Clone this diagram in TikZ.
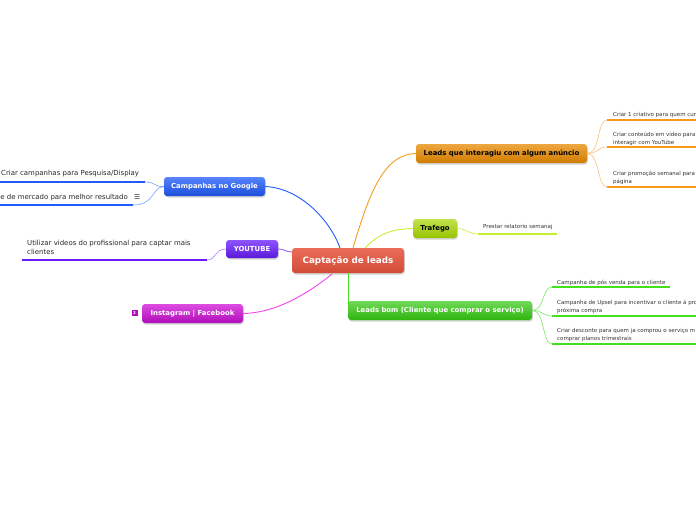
\documentclass[tikz,border=0pt]{standalone}
\usepackage{fontspec}
\setmainfont{DejaVu Sans}
\usetikzlibrary{shadows}
\definecolor{cMain}{HTML}{E8543C}
\definecolor{cBlue}{HTML}{1F5BFF}
\definecolor{cPurple}{HTML}{6A1CFF}
\definecolor{cMag}{HTML}{D010D8}
\definecolor{cMagLine}{HTML}{F040F0}
\definecolor{cOrange}{HTML}{F59A1A}
\definecolor{cOrangeBox}{HTML}{E88A00}
\definecolor{cYellow}{HTML}{C8F030}
\definecolor{cYellowBox}{HTML}{A8D800}
\definecolor{cGreen}{HTML}{44E020}
\definecolor{cGreenBox}{HTML}{33C810}
\begin{document}
\begin{tikzpicture}[x=1pt,y=-1pt,
  box/.style={rounded corners=3pt, inner sep=0pt, font=\bfseries\fontsize{6.9}{8}\selectfont, minimum height=19pt,
     drop shadow={opacity=0.35, shadow xshift=0.8pt, shadow yshift=-1.5pt}},
  leaf/.style={anchor=base west, inner sep=0pt, align=left, font=\fontsize{5.5}{8}\selectfont, text=black!80},
  bigleaf/.style={anchor=base west, inner sep=0pt, align=left, font=\fontsize{6.95}{9}\selectfont, text=black!85},
  uline/.style={line width=2.4pt},
  conn/.style={line width=0.9pt},
  thin/.style={line width=0.6pt}
]
\useasboundingbox (0,0) rectangle (696,520);

% nodes
\node[box, minimum width=112pt, minimum height=25pt, top color=cMain!85!white, bottom color=cMain!90!black, text=white, font=\bfseries\fontsize{8.8}{10}\selectfont] (main) at (348,260.5) {Captação de leads};
\node[box, minimum width=101pt, top color=cBlue!75!white, bottom color=cBlue!85!black, text=white] (google) at (214.5,186.5) {Campanhas no Google};
\node[box, minimum width=52pt, minimum height=18pt, top color=cPurple!75!white, bottom color=cPurple!85!black, text=white] (yt) at (252,249) {YOUTUBE};
\node[box, minimum width=101pt, top color=cMag!75!white, bottom color=cMag!85!black, text=white] (insta) at (192.5,313.5) {Instagram | Facebook};
\node[box, minimum width=171pt, top color=cOrangeBox!75!white, bottom color=cOrangeBox!90!black, text=black] (leadsq) at (501.5,153.5) {Leads que interagiu com algum anúncio};
\node[box, minimum width=44pt, top color=cYellowBox!70!white, bottom color=cYellowBox!90!black, text=black] (traf) at (435,228.5) {Trafego};
\node[box, minimum width=184pt, top color=cGreenBox!70!white, bottom color=cGreenBox!90!black, text=white] (bom) at (440,310.5) {Leads bom (Cliente que comprar o serviço)};
\node[fill=cMag!85!black, minimum size=6pt, inner sep=0pt, text=white, font=\bfseries\fontsize{4}{4}\selectfont] (badge) at (134.5,313) {2};

% main connectors
\coordinate (mTopA) at (340,248);
\coordinate (mTopB) at (353,248);
\coordinate (mTopC) at (365,248);
\coordinate (mBotA) at (332,274);
\coordinate (mBotB) at (348,273);
\draw[conn, cBlue] (google.east) .. controls (300,188) and (330,220) .. (mTopA);
\draw[conn, cOrange] (mTopB) .. controls (370,190) and (385,154) .. (leadsq.west);
\draw[conn, cYellow] (mTopC) .. controls (380,232) and (395,229) .. (traf.west);
\draw[conn, cPurple!70!white] (yt.east) .. controls (285,249) and (286,252) .. (main.west |- 0,252);
\draw[conn, cMagLine] (mBotA) .. controls (300,300) and (270,313) .. (insta.east);
\draw[conn, cGreen] (mBotB) -- (348,306);

% leaf coordinates
\coordinate (g1) at (145,182); \coordinate (g1e) at (-2,182);
\coordinate (g2) at (133,205); \coordinate (g2e) at (-2,205);
\coordinate (y1) at (207,260); \coordinate (y1e) at (22,260);
\coordinate (o1) at (607,120); \coordinate (o1e) at (698,120);
\coordinate (o2) at (607,147); \coordinate (o2e) at (698,147);
\coordinate (o3) at (607,187); \coordinate (o3e) at (698,187);
\coordinate (t1) at (478,234); \coordinate (t1e) at (557,234);
\coordinate (b1) at (552,287); \coordinate (b1e) at (670,287);
\coordinate (b2) at (552,316); \coordinate (b2e) at (698,316);
\coordinate (b3) at (552,344); \coordinate (b3e) at (698,344);

% leaf connectors
\draw[thin, cBlue!60!white] (google.west) .. controls (154,187) and (156,182) .. (g1);
\draw[thin, cBlue!60!white] (google.west) .. controls (152,187) and (155,205) .. (g2);
\draw[thin, cPurple!60!white] (yt.west) .. controls (215,249) and (216,260) .. (y1);
\draw[thin, cOrange!60!white] (leadsq.east) .. controls (600,154) and (597,120) .. (o1);
\draw[thin, cOrange!60!white] (leadsq.east) .. controls (597,154) and (598,147) .. (o2);
\draw[thin, cOrange!60!white] (leadsq.east) .. controls (600,154) and (597,187) .. (o3);
\draw[thin, cYellow] (traf.east) .. controls (468,229) and (468,234) .. (t1);
\draw[thin, cGreen!70!white] (bom.east) .. controls (545,310) and (542,287) .. (b1);
\draw[thin, cGreen!70!white] (bom.east) .. controls (542,310) and (543,316) .. (b2);
\draw[thin, cGreen!70!white] (bom.east) .. controls (545,310) and (542,344) .. (b3);

% underlines
\draw[uline, cBlue] (g1e) -- (g1);
\draw[uline, cBlue] (g2e) -- (g2);
\draw[uline, cPurple] (y1e) -- (y1);
\draw[uline, cOrange] (o1) -- (o1e);
\draw[uline, cOrange] (o2) -- (o2e);
\draw[uline, cOrange] (o3) -- (o3e);
\draw[uline, cYellow] (t1) -- (t1e);
\draw[uline, cGreen] (b1) -- (b1e);
\draw[uline, cGreen] (b2) -- (b2e);
\draw[uline, cGreen] (b3) -- (b3e);

% leaf texts (multi-line nodes: base = last line)
\node[bigleaf] (lg1) at (1,175.5) {Criar campanhas para Pesquisa/Display};
\node[bigleaf, anchor=base east] (lg2) at (128,199.5) {e de mercado para melhor resultado};
\node[anchor=base west, inner sep=0pt, font=\fontsize{6.8}{8}\selectfont, text=black!80] (note) at (134,199.5) {☰};
\node[bigleaf] (ly1) at (27,254.5) {Utilizar videos do profissional para captar mais\\clientes};
\node[leaf] (lo1) at (613,116) {Criar 1 criativo para quem cur};
\node[leaf] (lo2) at (613,144.5) {Criar conteúdo em video para\\interagir com YouTube};
\node[leaf] (lo3) at (613,183.5) {Criar promoção semanal para\\página};
\node[leaf] (lt1) at (483,228) {Prestar relatorio semanaj};
\node[leaf] (lb1) at (557,284) {Campanha de pós venda para o cliente};
\node[leaf] (lb2) at (557,312.5) {Campanha de Upsel para incentivar o cliente á pro\\próxima compra};
\node[leaf] (lb3) at (557,340.5) {Criar desconto para quem ja comprou o serviço m\\comprar planos trimestrais};
\end{tikzpicture}
\end{document}
